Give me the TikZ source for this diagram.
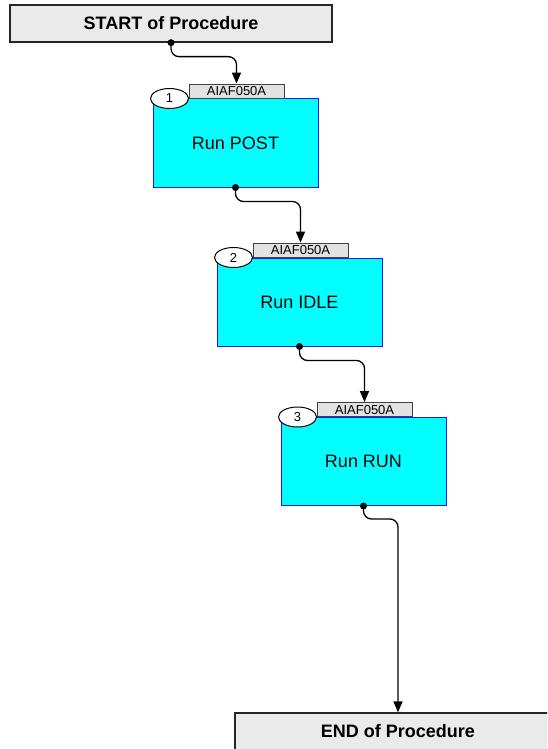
\documentclass[tikz,border=0pt]{standalone}
\usepackage{fontspec}
\setmainfont{Liberation Sans}
\usetikzlibrary{arrows.meta,shapes.geometric}
\definecolor{taskfill}{RGB}{0,255,255}
\definecolor{taskline}{RGB}{20,20,255}
\definecolor{termfill}{RGB}{234,234,234}
\definecolor{tagfill}{RGB}{226,226,226}
\begin{document}
\begin{tikzpicture}[x=1pt,y=-1pt,
  termbox/.style={draw=black!85, line width=1.3pt, fill=termfill, minimum height=37pt, inner sep=0pt,
    font=\fontsize{18}{20}\selectfont\bfseries},
  taskbox/.style={draw=taskline, line width=1pt, fill=taskfill, minimum width=165pt, minimum height=88pt,
    inner sep=0pt, font=\fontsize{18}{20}\selectfont},
  tagbox/.style={draw=black!75, line width=0.9pt, fill=tagfill, minimum width=95pt, minimum height=14pt,
    inner sep=0pt, anchor=south, font=\fontsize{13}{14}\selectfont},
  numell/.style={ellipse, draw=black, line width=1pt, fill=white, minimum width=38pt, minimum height=20pt,
    inner sep=0pt, font=\fontsize{13}{14}\selectfont},
  conn/.style={draw=black, line width=1.3pt, rounded corners=8pt, -{Triangle[width=9pt,length=11pt]}},
  dotmark/.style={fill=black}
]
\clip (0,0) rectangle (547,749);
\useasboundingbox (0,0) rectangle (547,749);
\fill[white] (0,0) rectangle (547,749);

% terminal boxes
\node[termbox, minimum width=322pt] (start) at (171,23.5) {START of Procedure};
\node[termbox, minimum width=326pt] (end) at (398,731.5) {END of Procedure};

% task 1
\node[taskbox] (box1) at (235.5,143) {Run POST};
\node[tagbox] (tag1) at ([xshift=1pt]box1.north) {AIAF050A};
\node[numell] (num1) at ([xshift=17pt]box1.north west) {1};

% task 2
\node[taskbox] (box2) at (299.5,302) {Run IDLE};
\node[tagbox] (tag2) at ([xshift=1pt]box2.north) {AIAF050A};
\node[numell] (num2) at ([xshift=17pt]box2.north west) {2};

% task 3
\node[taskbox] (box3) at (363.5,461.5) {Run RUN};
\node[tagbox] (tag3) at ([xshift=1pt]box3.north) {AIAF050A};
\node[numell] (num3) at ([xshift=17pt]box3.north west) {3};

% connectors
\draw[conn] (start.south) -- ++(0,14) -| (tag1.north);
\draw[conn] (box1.south) -- ++(0,14) -| (tag2.north);
\draw[conn] (box2.south) -- ++(0,14) -| (tag3.north);
\draw[conn] (box3.south) -- ++(0,13) -| (end.north);

% dots
\fill[dotmark] (start.south) circle (3.5);
\fill[dotmark] (box1.south) circle (3.5);
\fill[dotmark] (box2.south) circle (3.5);
\fill[dotmark] (box3.south) circle (3.5);
\end{tikzpicture}
\end{document}
